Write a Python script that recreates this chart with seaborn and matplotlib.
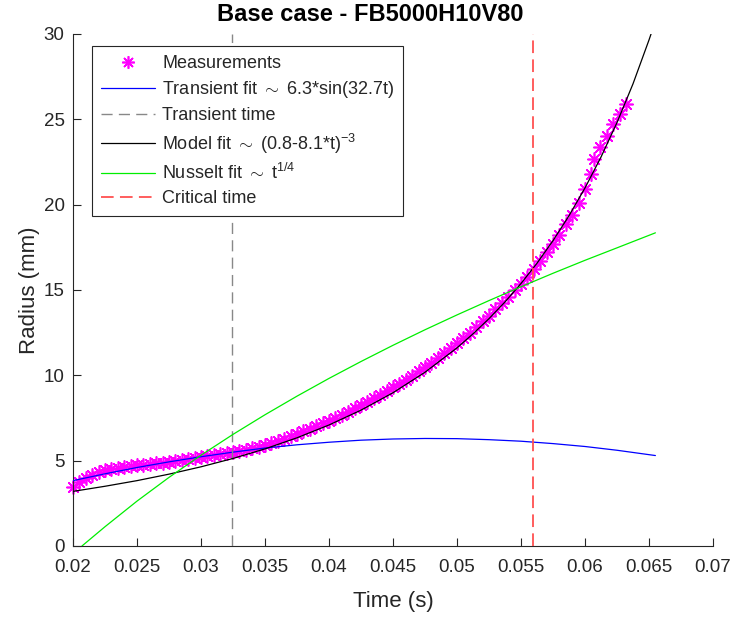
import matplotlib
matplotlib.use("Agg")
import matplotlib.pyplot as plt
import seaborn as sns
from matplotlib.lines import Line2D

# ---------------- data ----------------
meas_t = [0.0200, 0.0205, 0.0210, 0.0215, 0.0220, 0.0225, 0.0230, 0.0235, 0.0240, 0.0245,
          0.0250, 0.0255, 0.0260, 0.0265, 0.0270, 0.0275, 0.0280, 0.0285, 0.0290, 0.0295,
          0.0300, 0.0305, 0.0310, 0.0315, 0.0320, 0.0325, 0.0330, 0.0335, 0.0340, 0.0345,
          0.0350, 0.0355, 0.0360, 0.0365, 0.0370, 0.0375, 0.0380, 0.0385, 0.0390, 0.0395,
          0.0400, 0.0405, 0.0410, 0.0415, 0.0420, 0.0425, 0.0430, 0.0435, 0.0440, 0.0445,
          0.0450, 0.0455, 0.0460, 0.0465, 0.0470, 0.0475, 0.0480, 0.0485, 0.0490, 0.0495,
          0.0500, 0.0505, 0.0510, 0.0515, 0.0520, 0.0525, 0.0530, 0.0535, 0.0540, 0.0545,
          0.0550, 0.0555, 0.0560, 0.0565, 0.0570, 0.0575, 0.0580, 0.0585, 0.0590, 0.0595,
          0.0600, 0.0605, 0.0607, 0.0612, 0.0617, 0.0622, 0.0627, 0.0632]
meas_r = [3.45, 3.75, 4.00, 4.18, 4.33, 4.45, 4.53, 4.59, 4.64, 4.68,
          4.72, 4.76, 4.80, 4.84, 4.88, 4.93, 4.98, 5.03, 5.09, 5.15,
          5.21, 5.27, 5.33, 5.39, 5.45, 5.51, 5.57, 5.64, 5.72, 5.82,
          5.93, 6.04, 6.16, 6.29, 6.42, 6.56, 6.71, 6.86, 7.02, 7.18,
          7.35, 7.52, 7.70, 7.88, 8.07, 8.26, 8.46, 8.66, 8.87, 9.08,
          9.30, 9.52, 9.75, 9.99, 10.23, 10.48, 10.74, 11.01, 11.29, 11.58,
          11.88, 12.19, 12.50, 12.83, 13.16, 13.50, 13.86, 14.23, 14.60, 14.98,
          15.36, 15.78, 16.22, 16.70, 17.20, 17.72, 18.25, 18.85, 19.40, 20.10,
          20.90, 21.80, 22.70, 23.40, 24.00, 24.70, 25.30, 25.90]

transient_t = [0.0200, 0.0225, 0.0250, 0.0275, 0.0300, 0.0325, 0.0350, 0.0375, 0.0400, 0.0425,
               0.0450, 0.0475, 0.0500, 0.0525, 0.0550, 0.0575, 0.0600, 0.0625, 0.0655]
transient_r = [3.83, 4.23, 4.60, 4.93, 5.23, 5.50, 5.74, 5.93, 6.08, 6.20,
               6.27, 6.30, 6.29, 6.23, 6.14, 6.00, 5.83, 5.61, 5.30]

nusselt_t = [0.0207, 0.0225, 0.0250, 0.0275, 0.0300, 0.0325, 0.0350, 0.0375, 0.0400, 0.0425,
             0.0450, 0.0475, 0.0500, 0.0525, 0.0550, 0.0575, 0.0600, 0.0625, 0.0655]
nusselt_r = [0.00, 1.13, 2.63, 4.02, 5.32, 6.54, 7.69, 8.78, 9.82, 10.81,
             11.76, 12.67, 13.54, 14.38, 15.19, 15.98, 16.74, 17.47, 18.35]

model_t = [0.0200, 0.0225, 0.0250, 0.0275, 0.0300, 0.0325, 0.0350, 0.0375, 0.0400, 0.0425,
           0.0450, 0.0475, 0.0500, 0.05125, 0.0525, 0.05375, 0.0550, 0.05625, 0.0575, 0.05875,
           0.0600, 0.06125, 0.0625, 0.06375, 0.0650, 0.0652]
model_r = [3.20, 3.50, 3.83, 4.21, 4.64, 5.13, 5.69, 6.34, 7.09, 7.96,
           8.98, 10.18, 11.61, 12.43, 13.32, 14.30, 15.38, 16.57, 17.89, 19.35,
           20.98, 22.79, 24.81, 27.08, 29.65, 30.09]

transient_time = 0.0324
critical_time = 0.0559

x_ticks = [0.02, 0.025, 0.03, 0.035, 0.04, 0.045, 0.05, 0.055, 0.06, 0.065, 0.07]
x_tick_labels = ["0.02", "0.025", "0.03", "0.035", "0.04", "0.045", "0.05", "0.055", "0.06", "0.065", "0.07"]
y_ticks = [0, 5, 10, 15, 20, 25, 30]
y_tick_labels = ["0", "5", "10", "15", "20", "25", "30"]

labels = ["Measurements",
          "Transient fit $\\sim$ 6.3*sin(32.7t)",
          "Transient time",
          "Model fit $\\sim$ (0.8-8.1*t)$^{-3}$",
          "Nusselt fit $\\sim$ t$^{1/4}$",
          "Critical time"]

# ---------------- styling ----------------
sns.set_theme(style="white")
plt.rcParams['font.family'] = ['Liberation Sans', 'DejaVu Sans']
plt.rcParams['mathtext.fontset'] = 'custom'
plt.rcParams['mathtext.rm'] = 'Liberation Sans'
plt.rcParams['mathtext.it'] = 'Liberation Sans:italic'
plt.rcParams['mathtext.bf'] = 'Liberation Sans:bold'

AX_COL = '#262626'
MAG = '#ff00ff'
BLUE = '#0000ff'
GREEN = '#00ee00'
GRAY = '#888888'
RED = '#ff5050'
STAR = (8, 2, 0)

fig = plt.figure(figsize=(7.41, 6.18), dpi=100)
ax = fig.add_axes([73 / 741, 72 / 618, 640 / 741, 512 / 618])

sns.scatterplot(x=meas_t, y=meas_r, marker=STAR, s=90, color=MAG, edgecolor=MAG,
                linewidth=1.2, ax=ax, zorder=2, legend=False, clip_on=False)
sns.lineplot(x=transient_t, y=transient_r, color=BLUE, lw=0.9, ax=ax, sort=False,
             estimator=None, zorder=3, legend=False)
ax.axvline(transient_time, color=GRAY, lw=1.0, ls=(0, (8, 4.5)), zorder=3)
sns.lineplot(x=model_t, y=model_r, color='black', lw=0.9, ax=ax, sort=False,
             estimator=None, zorder=3, legend=False)
sns.lineplot(x=nusselt_t, y=nusselt_r, color=GREEN, lw=0.9, ax=ax, sort=False,
             estimator=None, zorder=3, legend=False)
ax.axvline(critical_time, color=RED, lw=1.3, ls=(0, (7, 3.5)), zorder=3)

ax.set_xlim(0.02, 0.07)
ax.set_ylim(0, 30)
ax.set_xticks(x_ticks)
ax.set_xticklabels(x_tick_labels)
ax.set_yticks(y_ticks)
ax.set_yticklabels(y_tick_labels)
ax.tick_params(direction='in', length=6, width=0.8, colors=AX_COL, labelsize=13.5,
               bottom=True, left=True)
ax.tick_params(axis='x', pad=9)
ax.tick_params(axis='y', pad=6)
sns.despine(ax=ax)
for s in ('left', 'bottom'):
    ax.spines[s].set_color(AX_COL)
    ax.spines[s].set_linewidth(0.8)

ax.set_xlabel("Time (s)", fontsize=16, color=AX_COL, labelpad=11)
ax.set_ylabel("Radius (mm)", fontsize=16, color=AX_COL, labelpad=3)

fig.suptitle("Base case - FB5000H10V80", x=370.5 / 741, y=1 - 3 / 618, va='top',
             fontsize=17, fontweight='bold', color='black')

handles = [
    Line2D([], [], ls='none', marker=STAR, color=MAG, markersize=9, markeredgewidth=1.2),
    Line2D([], [], color=BLUE, lw=0.9),
    Line2D([], [], color=GRAY, lw=1.0, ls=(0, (8, 4.5))),
    Line2D([], [], color='black', lw=0.9),
    Line2D([], [], color=GREEN, lw=0.9),
    Line2D([], [], color=RED, lw=1.3, ls=(0, (7, 3.5))),
]
leg = ax.legend(handles, labels, loc='upper left', bbox_to_anchor=(19 / 640, 1 - 12 / 512),
                borderaxespad=0, fontsize=13, frameon=True, fancybox=False, framealpha=1,
                edgecolor=AX_COL, handlelength=3.0, handletextpad=0.4, labelspacing=0.4,
                borderpad=0.5)
leg.get_frame().set_linewidth(0.8)
leg.set_zorder(10)

fig.savefig("out.png", dpi=100)
